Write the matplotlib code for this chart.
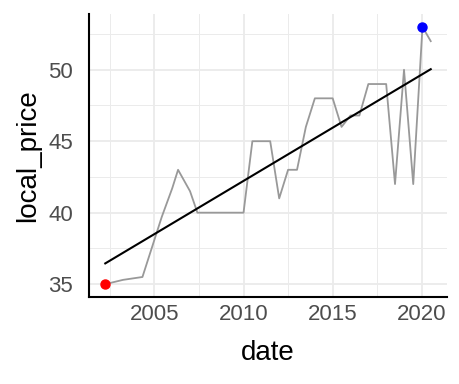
import numpy as np
import pandas as pd
import matplotlib
matplotlib.use("Agg")
import matplotlib.pyplot as plt
from matplotlib.ticker import MultipleLocator

plt.rcParams["font.family"] = ["Liberation Sans", "DejaVu Sans"]

# local price per survey date
dates = ["2002-04-01", "2003-04-01", "2004-05-01", "2005-06-01", "2006-01-01",
         "2006-05-01", "2007-01-01", "2007-06-01", "2008-06-01", "2009-07-01",
         "2010-01-01", "2010-07-01", "2011-07-01", "2012-01-01", "2012-07-01",
         "2013-01-01", "2013-07-01", "2014-01-01", "2014-07-01", "2015-01-01",
         "2015-07-01", "2016-01-01", "2016-07-01", "2017-01-01", "2017-07-01",
         "2018-01-01", "2018-07-01", "2019-01-01", "2019-07-09", "2020-01-14",
         "2020-07-01"]
local_price = [35, 35.3, 35.5, 39.7, 41.7,
               43, 41.5, 40, 40, 40,
               40, 45, 45, 41, 43,
               43, 46, 48, 48, 48,
               46, 46.8, 46.8, 49, 49,
               49, 42, 50, 42, 53,
               52]

x_ticks = [2005, 2010, 2015, 2020]
y_ticks = [35, 40, 45, 50]

# dates -> decimal years so the axis is plain numbers
d = pd.to_datetime(pd.Series(dates))
years = (d.dt.year + (d.dt.dayofyear - 1) / 365.25).to_numpy()
price = np.array(local_price, dtype=float)

# linear trend
slope, intercept = np.polyfit(years, price, 1)
fit_x = np.array([years.min(), years.max()])
fit_y = slope * fit_x + intercept

i_min = np.argmin(price)
i_max = np.argmax(price)

fig = plt.figure(figsize=(4.6, 3.84), dpi=100)
ax = fig.add_axes([89 / 460, 1 - 297 / 384, (447 - 89) / 460, (297 - 14) / 384])

ax.plot(years, price, color="#999999", linewidth=1.3, zorder=3)
ax.plot(fit_x, fit_y, color="black", linewidth=1.5, zorder=4)
ax.plot(years[i_min], price[i_min], "o", color="red", markersize=6.5, zorder=5)
ax.plot(years[i_max], price[i_max], "o", color="blue", markersize=6.5, zorder=5)

# ggplot-style 5% expansion
xr = years.max() - years.min()
yr = price.max() - price.min()
ax.set_xlim(years.min() - 0.05 * xr, years.max() + 0.05 * xr)
ax.set_ylim(price.min() - 0.05 * yr, price.max() + 0.05 * yr)

ax.set_xticks(x_ticks)
ax.set_yticks(y_ticks)
ax.xaxis.set_minor_locator(MultipleLocator(5, offset=2.5))
ax.yaxis.set_minor_locator(MultipleLocator(5, offset=2.5))
ax.grid(which="major", color="#EBEBEB", linewidth=1.3, zorder=0)
ax.grid(which="minor", color="#EBEBEB", linewidth=0.7, zorder=0)
ax.set_axisbelow(True)

for s in ["top", "right"]:
    ax.spines[s].set_visible(False)
for s in ["left", "bottom"]:
    ax.spines[s].set_linewidth(1.5)
    ax.spines[s].set_color("black")

ax.tick_params(which="both", length=0)
ax.tick_params(axis="x", labelsize=16, labelcolor="#4D4D4D", pad=5)
ax.tick_params(axis="y", labelsize=16, labelcolor="#4D4D4D", pad=11.5)

ax.set_xlabel("date", fontsize=20, labelpad=11)
ax.set_ylabel("local_price", fontsize=20, labelpad=5)

fig.savefig("out.png", dpi=100)
